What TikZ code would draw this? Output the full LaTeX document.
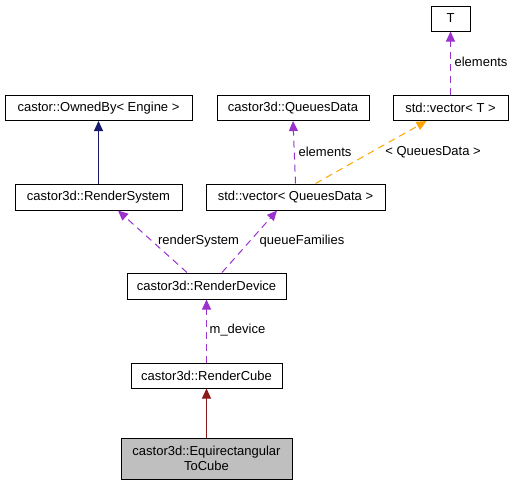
\documentclass[tikz,border=0pt]{standalone}
\usepackage{fontspec}
\setmainfont{Liberation Sans}
\usetikzlibrary{arrows.meta,calc}
\definecolor{edgepurple}{HTML}{9A32CD}
\definecolor{edgenavy}{HTML}{191970}
\definecolor{edgeorange}{HTML}{FFA500}
\definecolor{edgered}{HTML}{8B1A1A}
\definecolor{boxgrey}{HTML}{BFBFBF}
\begin{document}
\begin{tikzpicture}[x=1pt,y=-1pt,
  cls/.style={draw=black,line width=1pt,fill=white,inner sep=0pt,font=\fontsize{13}{15}\selectfont,align=center,minimum height=25pt},
  lbl/.style={font=\fontsize{13}{15}\selectfont,inner sep=0pt},
  usedge/.style={draw=edgepurple,line width=1pt,dash pattern=on 7pt off 5pt,-{Triangle[length=10pt,width=9pt,fill=edgepurple]}},
  tmpledge/.style={draw=edgeorange,line width=1pt,dash pattern=on 7pt off 5pt,-{Triangle[length=10pt,width=9pt,fill=edgeorange]}},
  inhnavy/.style={draw=edgenavy,line width=1pt,-{Triangle[length=10pt,width=9pt,fill=edgenavy]}},
  inhred/.style={draw=edgered,line width=1pt,-{Triangle[length=10pt,width=9pt,fill=edgered]}}
]
\useasboundingbox (0,0) rectangle (513,485);
\node[cls,minimum width=39pt] (T) at (450.5,18.5) {T};
\node[cls,minimum width=115pt] (vecT) at (450.5,108) {std::vector< T >};
\node[cls,minimum width=152pt] (QD) at (293,108) {castor3d::QueuesData};
\node[cls,minimum width=187pt] (Owned) at (98.5,108) {castor::OwnedBy< Engine >};
\node[cls,minimum width=167pt,minimum height=26pt] (RS) at (98.5,197) {castor3d::RenderSystem};
\node[cls,minimum width=179pt,minimum height=26pt] (vecQD) at (295.5,197) {std::vector< QueuesData >};
\node[cls,minimum width=159pt,minimum height=26pt] (RD) at (206.5,286) {castor3d::RenderDevice};
\node[cls,minimum width=151pt] (RC) at (206.5,375.5) {castor3d::RenderCube};
\node[cls,minimum width=171pt,minimum height=41pt,fill=boxgrey] (E2C) at (206.5,458.5) {castor3d::Equirectangular\\ToCube};

\draw[usedge] (vecT.north) -- (T.south);
\node[lbl] (lT) at (481,62) {elements};
\draw[usedge] (vecQD.north) -- (QD.south);
\node[lbl] (lQD) at (325,152) {elements};
\draw[tmpledge] ($(vecQD.north)+(20,0)$) -- ($(vecT.south)+(-24,0)$);
\node[lbl] (lTmpl) at (433,152) {< QueuesData >};
\draw[inhnavy] (RS.north) -- (Owned.south);
\draw[usedge] ($(RD.north)+(-19.5,0)$) -- ($(RS.south)+(19.5,0)$);
\node[lbl] (lRS) at (198.5,241) {renderSystem};
\draw[usedge] ($(RD.north)+(15.5,0)$) -- ($(vecQD.south)+(-18.5,0)$);
\node[lbl] (lQF) at (302,241) {queueFamilies};
\draw[usedge] (RC.north) -- (RD.south);
\node[lbl] (lDev) at (237.5,330) {m\_device};
\draw[inhred] (E2C.north) -- (RC.south);
\end{tikzpicture}
\end{document}
